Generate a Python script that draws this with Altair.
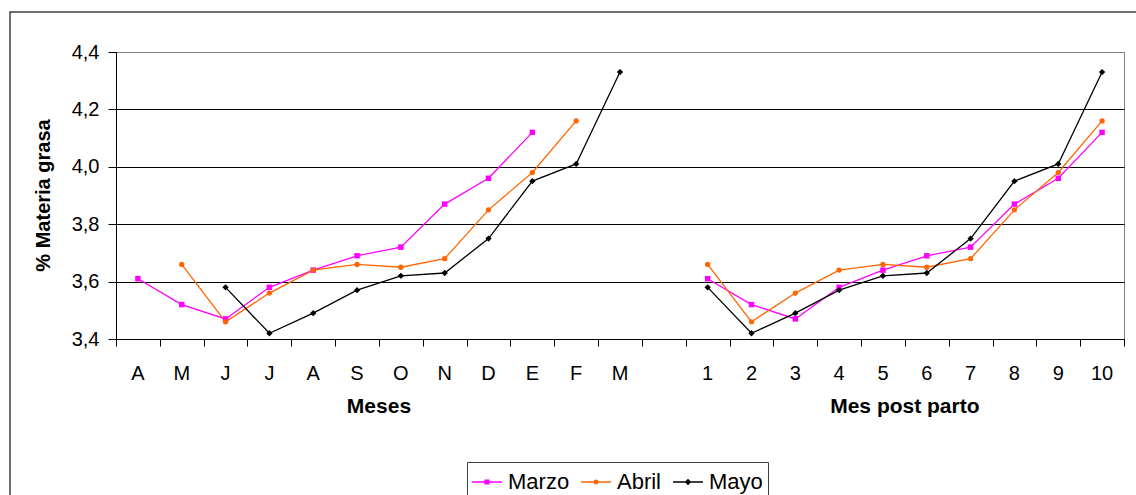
import altair as alt
import pandas as pd

# ---- data ----
series = ["Marzo", "Abril", "Mayo"]
marzo = [3.61, 3.52, 3.47, 3.58, 3.64, 3.69, 3.72, 3.87, 3.96, 4.12]
abril = [3.66, 3.46, 3.56, 3.64, 3.66, 3.65, 3.68, 3.85, 3.98, 4.16]
mayo = [3.58, 3.42, 3.49, 3.57, 3.62, 3.63, 3.75, 3.95, 4.01, 4.33]
start_offset = [0, 1, 2]  # first calendar month of each series (A, M, J)
months = ["A", "M", "J", "J", "A", "S", "O", "N", "D", "E", "F", "M"]
post = ["1", "2", "3", "4", "5", "6", "7", "8", "9", "10"]
colors = ["#FF00FF", "#FF6600", "#000000"]
y_ticks = [3.4, 3.6, 3.8, 4.0, 4.2, 4.4]

n_slots = len(months) + 1 + len(post)
post_start = len(months) + 1

rows = []
for s, vals, off in zip(series, [marzo, abril, mayo], start_offset):
    for i, v in enumerate(vals):
        rows.append({"serie": s, "panel": "Meses", "pos": off + i + 0.5, "value": v})
        rows.append({"serie": s, "panel": "Post", "pos": post_start + i + 0.5, "value": v})
df = pd.DataFrame(rows)

lab_rows = [{"lab": m, "pos": i + 0.5} for i, m in enumerate(months)]
lab_rows += [{"lab": p, "pos": post_start + i + 0.5} for i, p in enumerate(post)]
labels_df = pd.DataFrame(lab_rows)

titles_df = pd.DataFrame([
    {"t": "Meses", "pos": len(months) / 2},
    {"t": "Mes post parto", "pos": post_start + len(post) / 2},
])

W, H = 1008, 287

xscale = alt.Scale(domain=[0, n_slots], nice=False, zero=False)
yscale = alt.Scale(domain=[3.4, 4.4], nice=False, zero=False)
cscale = alt.Scale(domain=series, range=colors)

grid_color = {"condition": {"test": "datum.value >= 4.39", "value": "#808080"}, "value": "#000000"}

x_axis = alt.Axis(values=list(range(n_slots + 1)), labels=False, title=None, tickSize=7,
                  tickColor="black", domainColor="black", grid=False)
y_axis = alt.Axis(values=y_ticks, labelExpr="replace(format(datum.value, '.1f'), '.', ',')",
                  tickSize=8, tickColor="black", domainColor="black", labelFontSize=20,
                  labelColor="black", labelPadding=9, title="% Materia grasa",
                  titleFontSize=20, titleFontWeight="bold", titleColor="black",
                  titleX=-73, titleY=143, titleBaseline="middle", titleAlign="center",
                  titleAngle=270, grid=True, gridColor=grid_color, gridWidth=1)

bar = "M-1,-0.05H1V0.05H-1Z "
paths = [
    bar + "M-0.17,-0.17H0.17V0.17H-0.17Z",
    bar + "M0.17,0A0.17,0.17 0 1,1 -0.17,0A0.17,0.17 0 1,1 0.17,0Z",
    bar + "M0,-0.22L0.22,0L0,0.22L-0.22,0Z",
]
leg = alt.Legend(orient="none", legendX=351, legendY=410, direction="horizontal", title=None,
                 symbolSize=900, labelFontSize=22, labelColor="black", labelOffset=6,
                 columnPadding=11, padding=5, strokeColor="#404040", symbolStrokeWidth=0,
                 symbolOpacity=1, labelLimit=300)

X = alt.X("pos:Q", scale=xscale, axis=x_axis, title=None)
Y = alt.Y("value:Q", scale=yscale, axis=y_axis, title="% Materia grasa")
C = alt.Color("serie:N", scale=cscale, legend=leg, title=None)

base = alt.Chart(df)

lines = base.mark_line(strokeWidth=1.3).encode(
    x=X, y=Y, color=C, detail="panel:N", order="pos:Q",
)

shapes = {"Marzo": ("square", 30), "Abril": ("circle", 28), "Mayo": ("diamond", 40)}
point_layers = []
for s in series:
    shp, sz = shapes[s]
    point_layers.append(
        base.transform_filter(alt.datum.serie == s)
        .mark_point(filled=True, opacity=1, shape=shp, size=sz)
        .encode(x=X, y=Y, color=C)
    )

xlabels = alt.Chart(labels_df).mark_text(fontSize=20, baseline="middle", align="center", color="black").encode(
    x=X, y=alt.value(321.5), text="lab:N",
)

xtitles = alt.Chart(titles_df).mark_text(fontSize=21, fontWeight="bold", baseline="middle",
                                         align="center", color="black").encode(
    x=X, y=alt.value(355), text="t:N",
)

frame = alt.Chart(alt.Data(values=[{}])).mark_rect(fillOpacity=0, stroke="#404040", strokeWidth=1.5).encode(
    x=alt.value(-106), x2=alt.value(1060), y=alt.value(-40), y2=alt.value(500)
)

legend_layer = base.transform_filter("false").mark_point(filled=True, opacity=1).encode(
    x=X, y=Y, color=C,
    shape=alt.Shape("serie:N", scale=alt.Scale(domain=series, range=paths), legend=leg, title=None),
)

chart = alt.layer(frame, lines, *point_layers, xlabels, xtitles, legend_layer).properties(
    width=W, height=H,
    padding={"left": 116, "top": 52, "right": 12, "bottom": 156},
    autosize="none",
    background="white",
).configure(font="Liberation Sans").configure_view(stroke="#808080", strokeWidth=1)

chart.save("out.html", embed_options={"renderer": "svg", "actions": False})
